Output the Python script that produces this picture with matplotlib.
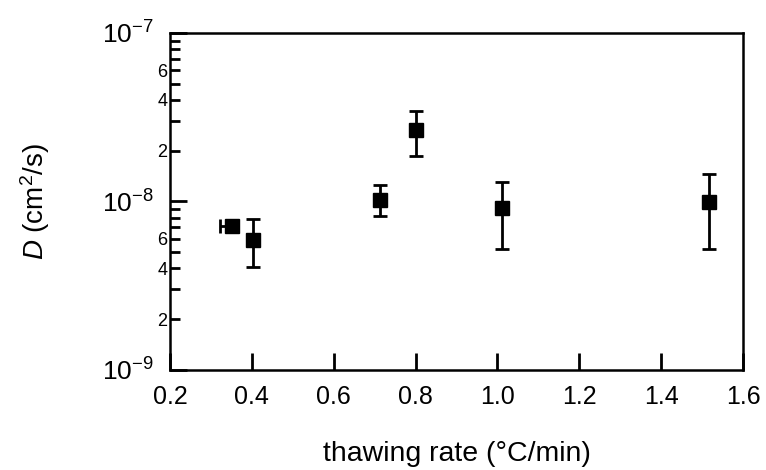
import matplotlib
matplotlib.use('Agg')
import matplotlib.pyplot as plt
import matplotlib.ticker as ticker
import numpy as np

plt.rcParams['font.family'] = ['Liberation Sans', 'DejaVu Sans']
plt.rcParams['mathtext.fontset'] = 'custom'
plt.rcParams['mathtext.rm'] = 'Liberation Sans'
plt.rcParams['mathtext.it'] = 'Liberation Sans:italic'
plt.rcParams['axes.unicode_minus'] = False

# data
rate = [0.352, 0.403, 0.713, 0.801, 1.012, 1.516]
D = [7.1e-9, 5.9e-9, 1.02e-8, 2.65e-8, 9.1e-9, 9.9e-9]
D_low = [7.1e-9, 4.1e-9, 8.2e-9, 1.85e-8, 5.2e-9, 5.2e-9]
D_high = [7.1e-9, 7.9e-9, 1.25e-8, 3.46e-8, 1.31e-8, 1.46e-8]
rate_err_left = [0.03, 0, 0, 0, 0, 0]

D = np.array(D)
yerr = [D - np.array(D_low), np.array(D_high) - D]
xerr = [rate_err_left, [0] * len(rate)]

fig = plt.figure(figsize=(7.66, 4.70), dpi=100)
ax = fig.add_axes([0.222, 0.213, 0.748, 0.717])

ax.errorbar(rate, D, yerr=yerr, xerr=xerr, fmt='s', color='black',
            markersize=9.5, elinewidth=2, capsize=5, capthick=2)

ax.set_yscale('log')
ax.set_xlim(0.2, 1.6)
ax.set_ylim(1e-9, 1e-7)

ax.xaxis.set_major_locator(ticker.MultipleLocator(0.2))
ax.xaxis.set_major_formatter(ticker.FormatStrFormatter('%.1f'))
ax.xaxis.set_minor_locator(ticker.NullLocator())

ax.yaxis.set_major_locator(ticker.FixedLocator([1e-9, 1e-8, 1e-7]))
ax.yaxis.set_major_formatter(ticker.FuncFormatter(
    lambda v, p: r'$10^{%d}$' % int(round(np.log10(v)))))
minor_vals = [m * 10.0 ** e for e in (-9, -8) for m in range(2, 10)]
ax.yaxis.set_minor_locator(ticker.FixedLocator(minor_vals))


def minor_fmt(v, p):
    m = v / 10 ** np.floor(np.log10(v) + 1e-9)
    m = int(round(m))
    return str(m) if m in (2, 4, 6) else ''


ax.yaxis.set_minor_formatter(ticker.FuncFormatter(minor_fmt))

ax.tick_params(axis='x', which='major', direction='in', length=12, width=2,
               labelsize=18, pad=11, top=False)
ax.tick_params(axis='y', which='major', direction='in', length=12, width=2,
               labelsize=19, pad=12, right=False)
ax.tick_params(axis='y', which='minor', direction='in', length=7, width=2,
               labelsize=13, pad=2, right=False)

for s in ax.spines.values():
    s.set_linewidth(1.8)

ax.set_xlabel('thawing rate (°C/min)', fontsize=20.5, labelpad=23)
ax.set_ylabel('$D$ (cm$^2$/s)', fontsize=20, labelpad=36)

plt.savefig('out.png', dpi=100)
